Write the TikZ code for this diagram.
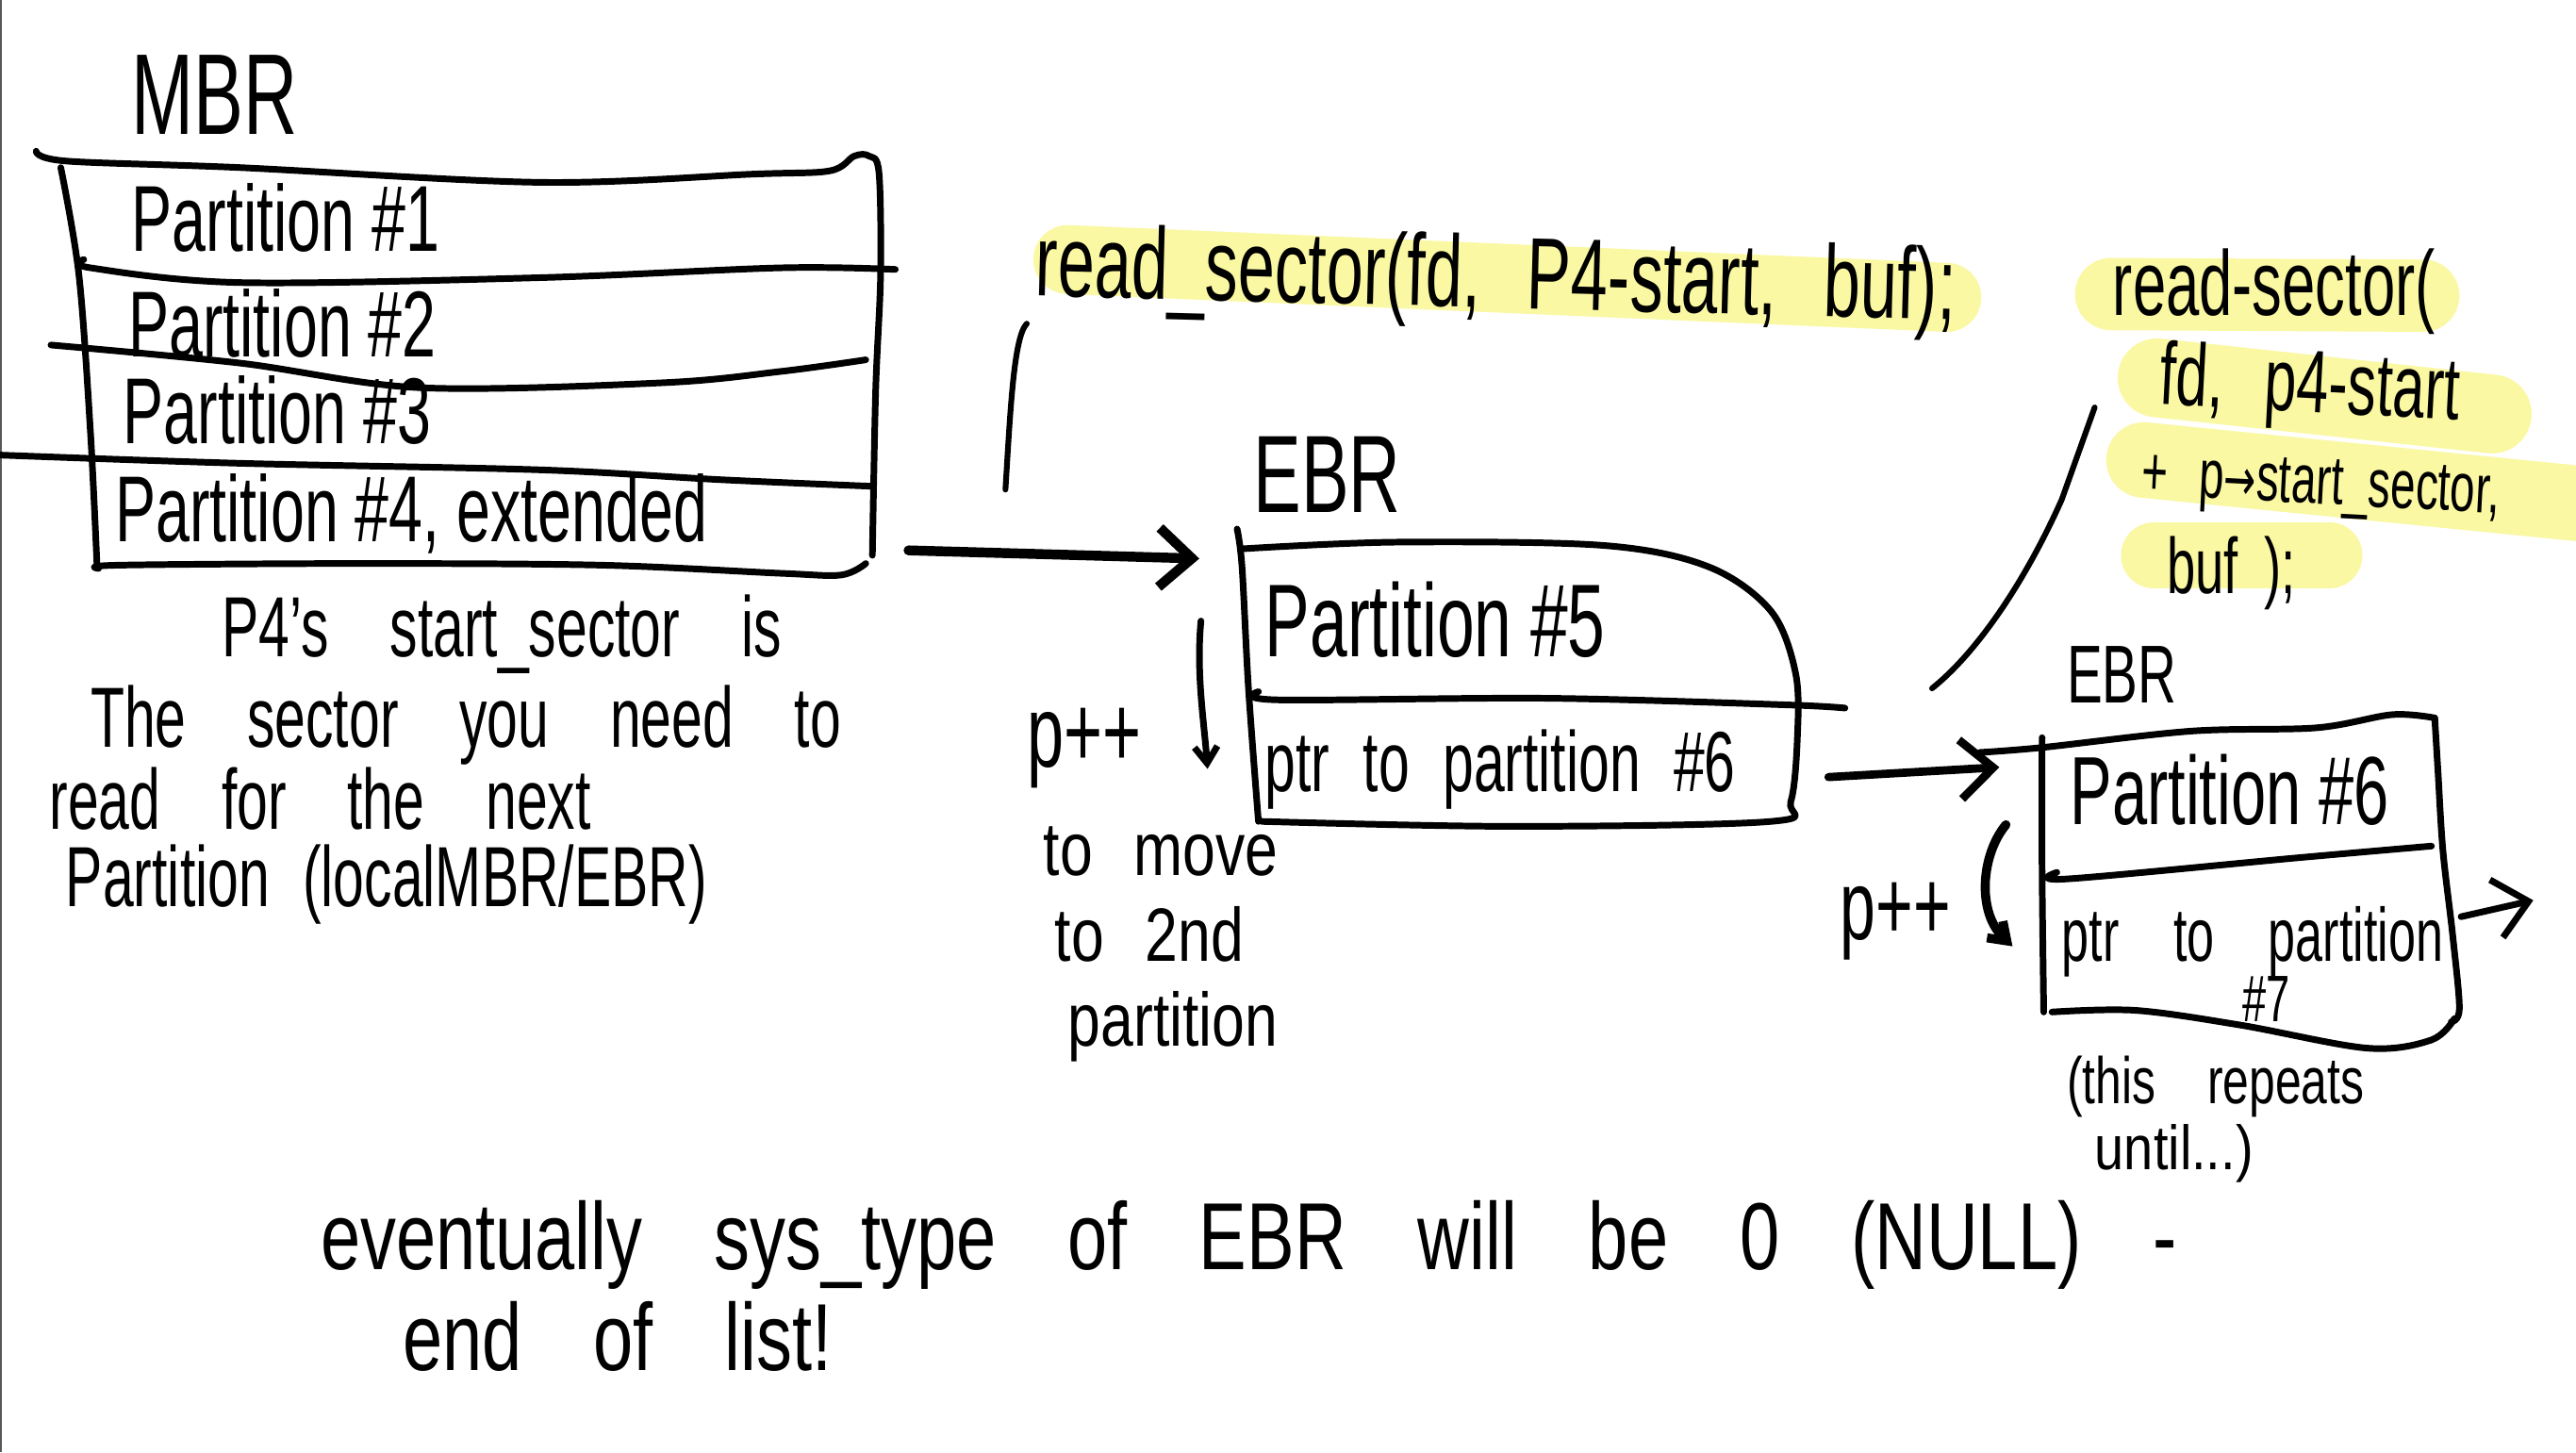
\documentclass[tikz,border=0pt]{standalone}
\usepackage{fontspec}
\setmainfont{Liberation Sans}
\newfontfamily\symfont{DejaVu Sans}
\usetikzlibrary{arrows.meta}
\definecolor{hl}{HTML}{FBF8A3}
\newcommand\fs[1]{\fontsize{#1}{#1}\selectfont}
\newcommand\wordgap[1]{\spaceskip=#1em\relax}
\begin{document}
\begin{tikzpicture}[x=1pt,y=-1pt,
  ink/.style={line width=4pt, line cap=round, line join=round},
  bold ink/.style={line width=5.5pt, line cap=round, line join=round},
  hand/.style={anchor=base west, inner sep=0pt, xscale=0.65},
  hilite/.style={hl, line width=#1, line cap=round},
  bigbarb/.style={-{Straight Barb[length=20pt,width=36pt]}},
  smallbarb/.style={-{Straight Barb[length=10pt,width=14pt]}}]
\fill[white] (0,0) rectangle (1568,884);
\useasboundingbox (0,0) rectangle (1568,884);
\draw[black!65, line width=1.2pt] (0.6,0) -- (0.6,884);

% highlights
\draw[hilite=42pt] (650,158) -- (1185,181);
\draw[hilite=44pt] (1285,179) -- (1475,180);
\draw[hilite=48pt] (1313,230) -- (1517,252);
\draw[hilite=46pt] (1305,280) -- (1575,307);
\draw[hilite=40pt] (1311,338) -- (1418,338);

% MBR box
\draw[ink] plot[smooth, tension=0.55] coordinates {(22,92) (40,98) (146,102) (329,111) (458,106) (505,104) (520,95) (529,95) (535,105) (536,167) (533,238) (531,338)};
\draw[ink] plot[smooth, tension=0.55] coordinates {(37,102) (48,167) (55,262) (59,343)};
\draw[ink] plot[smooth, tension=0.55] coordinates {(60,346) (73,344) (220,343) (366,344) (476,349) (512,350) (527,343)};
\draw[ink] plot[smooth, tension=0.55] coordinates {(51,158) (55,163) (146,172) (329,169) (476,163) (545,164)};
\draw[ink] plot[smooth, tension=0.55] coordinates {(31,210) (146,221) (256,236) (403,233) (476,226) (527,219)};
\draw[ink] plot[smooth, tension=0.55] coordinates {(0,277) (146,282) (329,286) (439,292) (531,296)};

% EBR box 1
\draw[ink] plot[smooth, tension=0.55] coordinates {(757,334) (850,330) (976,332) (1040,345) (1078,372) (1093,410) (1094,450) (1090,488) (1078,500) (920,503) (768,500)};
\draw[ink] plot[smooth, tension=0.55] coordinates {(753,322) (756,345) (760,420) (766,500)};
\draw[ink] plot[smooth, tension=0.55] coordinates {(766,421) (778,426) (940,425) (1086,429) (1123,431)};

% EBR box 2
\draw[ink] plot[smooth, tension=0.55] coordinates {(1205,458) (1243,455) (1334,445) (1410,443) (1456,435) (1482,437)};
\draw[ink] plot[smooth, tension=0.55] coordinates {(1482,437) (1484,470) (1487,518) (1493,570) (1497,614) (1492,622)};
\draw[ink] plot[smooth, tension=0.55] coordinates {(1249,616) (1300,615) (1364,624) (1441,638) (1480,633) (1494,620)};
\draw[ink] plot[smooth, tension=0.55] coordinates {(1243,449) (1243,530) (1244,616)};
\draw[ink] plot[smooth, tension=0.55] coordinates {(1252,531) (1258,535) (1400,522) (1480,515)};

% connector coordinates
\coordinate (a1s) at (553,335);
\coordinate (a1e) at (730,340);
\coordinate (a2s) at (1113,473);
\coordinate (a2e) at (1217,467);
\coordinate (a3s) at (1498,558);
\coordinate (a3e) at (1542,548);
\coordinate (d1s) at (731,378);
\coordinate (d1e) at (735,468);
\coordinate (d2s) at (1221,502);
\coordinate (d2e) at (1225,576);
\coordinate (v1) at (625,197);
\coordinate (v2) at (612,298);
\coordinate (g1) at (1176,419);
\coordinate (g2) at (1275,248);

\draw[bold ink, line width=6pt, bigbarb] (a1s) -- (a1e);
\draw[ink, line width=5pt, bigbarb] (a2s) -- (a2e);
\draw[ink, bigbarb] (a3s) -- (a3e);
\draw[ink, smallbarb] (d1s) .. controls (728,410) and (733,440) .. (d1e);
\draw[bold ink, smallbarb] (d2s) .. controls (1206,520) and (1203,555) .. (d2e);
\draw[ink, line width=3.5pt] (v1) .. controls (617,205) and (615,250) .. (v2);
\draw[ink, line width=3.5pt] (g1) .. controls (1200,400) and (1230,360) .. (1255,304) -- (g2);

% texts
\node[hand, font=\fs{70}] (mbr) at (80,82) {MBR};
\node[hand, font=\fs{57}] (p1) at (80,153) {Partition \#1};
\node[hand, font=\fs{57}] (p2) at (78,217) {Partition \#2};
\node[hand, font=\fs{57}] (p3) at (75,270) {Partition \#3};
\node[hand, font=\fs{57}] (p4) at (70,330) {Partition \#4, extended};

\node[hand, font={\fs{52}\wordgap{1.1}}] (t1) at (135,400) {P4's start\_sector is};
\node[hand, font={\fs{52}\wordgap{1.1}}] (t2) at (55,455) {The sector you need to};
\node[hand, font={\fs{52}\wordgap{1.1}}] (t3) at (30,505) {read for the next};
\node[hand, font={\fs{52}\wordgap{0.6}}] (t4) at (40,552) {Partition (localMBR/EBR)};

\node[rotate=-1.5, hand, font={\fs{62}\wordgap{0.7}}] (c1) at (630,180) {read\_sector(fd, P4-start, buf);};
\node[hand, font={\fs{56}\wordgap{0.7}}] (c2a) at (1286,192) {read-sector(};
\node[rotate=-3, hand, font={\fs{54}\wordgap{0.7}}] (c2b) at (1314,246) {fd, p4-start};
\node[rotate=-3, hand, font={\fs{42}\wordgap{0.7}}] (c2c) at (1303,301) {+ p{\symfont\fs{36}→}start\_sector,};
\node[hand, font={\fs{48}\wordgap{0.5}}] (c2d) at (1319,361) {buf );};

\node[hand, font=\fs{67}] (ebr1) at (763,312) {EBR};
\node[hand, font=\fs{63}] (p5) at (770,400) {Partition \#5};
\node[hand, font={\fs{52}\wordgap{0.6}}] (ptr6) at (770,482) {ptr to partition \#6};
\node[hand, font=\fs{62}] (pp1) at (625,467) {p++};
\node[hand, xscale=1.2, font={\fs{46}\wordgap{0.7}}] (m1) at (635,533) {to move};
\node[hand, xscale=1.2, font={\fs{46}\wordgap{0.7}}] (m2) at (642,585) {to 2nd};
\node[hand, xscale=1.2, font=\fs{46}] (m3) at (650,637) {partition};

\node[hand, font=\fs{50}] (ebr2) at (1258,428) {EBR};
\node[hand, font=\fs{59}] (p6) at (1260,502) {Partition \#6};
\node[hand, font={\fs{46}\wordgap{1.1}}] (ptr7) at (1255,585) {ptr to partition};
\node[hand, font=\fs{40}] (n7) at (1365,622) {\#7};
\node[hand, font=\fs{60}] (pp2) at (1120,572) {p++};
\node[hand, xscale=1.1, font={\fs{40}\wordgap{1.1}}] (r1) at (1258,672) {(this repeats};
\node[hand, xscale=1.3, font=\fs{38}] (r2) at (1275,712) {until...)};

\node[hand, xscale=1.155, font={\fs{58}\wordgap{1.0}}] (b1) at (195,773) {eventually sys\_type of EBR will be 0 (NULL) -};
\node[hand, xscale=1.155, font={\fs{58}\wordgap{1.0}}] (b2) at (245,834) {end of list!};
\end{tikzpicture}
\end{document}
